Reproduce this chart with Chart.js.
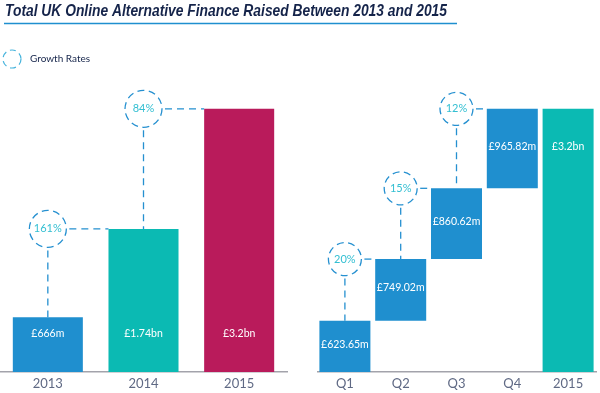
<!DOCTYPE html>
<html>
<head>
<meta charset="utf-8">
<script src="https://cdn.jsdelivr.net/npm/chart.js@4.4.1/dist/chart.umd.min.js"></script>
<style>
    html, body { margin: 0; padding: 0; background: #fff; }
    #wrap { position: relative; width: 600px; height: 393px; }
    .box { position: absolute; top: 0; height: 393px; }
    #leftBox { left: 0; width: 600px; }
    #rightBox { left: 317px; width: 283px; }
</style>
</head>
<body>
<div id="wrap">
    <div class="box" id="leftBox"><canvas id="yearChart"></canvas></div>
    <div class="box" id="rightBox"><canvas id="quarterChart"></canvas></div>
</div>
<script>
const titleText = 'Total UK Online Alternative Finance Raised Between 2013 and 2015';
const legendText = 'Growth Rates';

const years = ['2013', '2014', '2015'];
const yearValues = [666, 1740, 3200]; // £m
const yearLabels = ['£666m', '£1.74bn', '£3.2bn'];
const yearGrowth = ['161%', '84%'];

const quarters = ['Q1', 'Q2', 'Q3', 'Q4', '2015'];
const quarterValues = [623.65, 749.02, 860.62, 965.82]; // £m
const totalValue = 3200;
const quarterLabels = ['£623.65m', '£749.02m', '£860.62m', '£965.82m', '£3.2bn'];
const quarterGrowth = ['20%', '15%', '12%'];

const blue = '#1f8fcf';
const teal = '#0bbab3';
const crimson = '#b91b5b';
const navy = '#15244a';
const ringBlue = '#2590d0';
const ringText = '#33bfd2';
const tickGrey = '#5f6984';
const axisGrey = '#a3a3ab';
const labelFont = 'Lato, "Liberation Sans", sans-serif';

// waterfall: each quarter floats on top of the previous ones
let running = 0;
const quarterBars = quarterValues.map(v => {
    const bar = [running, running + v];
    running += v;
    return bar;
});
quarterBars.push([0, totalValue]);

function makeScales() {
    return {
        x: {
            grid: { display: false, drawTicks: false },
            border: { display: true, color: axisGrey, width: 1.5 },
            ticks: { color: tickGrey, font: { family: labelFont, size: 13 }, padding: 4 },
            afterFit: function(scale) { scale.height = 21; }
        },
        y: { display: false, min: 0, max: 4000 }
    };
}

function dashLine(ctx, x1, y1, x2, y2) {
    ctx.save();
    ctx.strokeStyle = ringBlue;
    ctx.lineWidth = 1.3;
    ctx.setLineDash([7, 5]);
    ctx.beginPath();
    ctx.moveTo(x1, y1);
    ctx.lineTo(x2, y2);
    ctx.stroke();
    ctx.restore();
}

function ring(ctx, x, y, r, text) {
    ctx.save();
    ctx.strokeStyle = ringBlue;
    ctx.lineWidth = 1.3;
    ctx.setLineDash([7, 4.5]);
    ctx.beginPath();
    ctx.arc(x, y, r, 0, Math.PI * 2);
    ctx.stroke();
    if (text) {
        ctx.fillStyle = ringText;
        ctx.font = '11px ' + labelFont;
        ctx.textAlign = 'center';
        ctx.textBaseline = 'middle';
        ctx.fillText(text, x, y);
    }
    ctx.restore();
}

function barText(ctx, text, x, y) {
    ctx.save();
    ctx.fillStyle = '#ffffff';
    ctx.font = '10.5px ' + labelFont;
    ctx.textAlign = 'center';
    ctx.textBaseline = 'middle';
    ctx.fillText(text, x, y);
    ctx.restore();
}

// growth ring sits above bar i and points across to bar i+1
function growthLinks(chart, growth, r) {
    const ctx = chart.ctx;
    const bars = chart.getDatasetMeta(0).data;
    growth.forEach((g, i) => {
        const prev = bars[i];
        const next = bars[i + 1];
        const cx = prev.x;
        const cy = next.y;
        dashLine(ctx, cx, cy + r + 3, cx, prev.y);
        dashLine(ctx, cx + r + 3, cy, next.x - next.width / 2, cy);
        ring(ctx, cx, cy, r, g);
    });
}

const yearPlugin = {
    id: 'yearExtras',
    afterDraw(chart) {
        const ctx = chart.ctx;

        // title, squeezed to the width of the original heading
        ctx.save();
        ctx.font = 'italic bold 16px "Liberation Sans", sans-serif';
        const w = ctx.measureText(titleText).width;
        ctx.translate(5, 15.5);
        ctx.scale(442 / w, 1);
        ctx.fillStyle = navy;
        ctx.fillText(titleText, 0, 0);
        ctx.restore();

        ctx.save();
        ctx.strokeStyle = blue;
        ctx.lineWidth = 1.5;
        ctx.beginPath();
        ctx.moveTo(4, 23.5);
        ctx.lineTo(457, 23.5);
        ctx.stroke();
        ctx.restore();

        // legend
        ctx.save();
        ctx.strokeStyle = '#45b3dc';
        ctx.lineWidth = 1.2;
        ctx.setLineDash([6, 4]);
        ctx.beginPath();
        ctx.arc(12, 59, 9, 0, Math.PI * 2);
        ctx.stroke();
        ctx.fillStyle = navy;
        ctx.font = '10px ' + labelFont;
        ctx.textBaseline = 'middle';
        ctx.fillText(legendText, 30, 59);
        ctx.restore();

        growthLinks(chart, yearGrowth, 18.5);

        const bars = chart.getDatasetMeta(0).data;
        const labelY = bars[0].y + 16;
        bars.forEach((bar, i) => barText(ctx, yearLabels[i], bar.x, labelY));
    }
};

const quarterPlugin = {
    id: 'quarterExtras',
    afterDraw(chart) {
        const ctx = chart.ctx;
        growthLinks(chart, quarterGrowth, 16.5);

        const bars = chart.getDatasetMeta(0).data;
        let lastY = 0;
        bars.forEach((bar, i) => {
            let y = (bar.y + bar.base) / 2 - 2;
            if (i === bars.length - 1) y = lastY; // total label lines up with Q4
            lastY = y;
            barText(ctx, quarterLabels[i], bar.x, y);
        });
    }
};

new Chart(document.getElementById('yearChart').getContext('2d'), {
    type: 'bar',
    data: {
        labels: years,
        datasets: [{
            data: yearValues,
            backgroundColor: [blue, teal, crimson],
            borderWidth: 0,
            categoryPercentage: 1,
            barPercentage: 0.732
        }]
    },
    options: {
        responsive: true,
        maintainAspectRatio: false,
        animation: false,
        layout: { padding: { top: 43, right: 313, bottom: 0, left: 0 } },
        scales: makeScales(),
        plugins: { legend: { display: false }, tooltip: { enabled: false } }
    },
    plugins: [yearPlugin]
});

new Chart(document.getElementById('quarterChart').getContext('2d'), {
    type: 'bar',
    data: {
        labels: quarters,
        datasets: [{
            data: quarterBars,
            backgroundColor: [blue, blue, blue, blue, teal],
            borderWidth: 0,
            borderSkipped: false,
            categoryPercentage: 1,
            barPercentage: 0.914
        }]
    },
    options: {
        responsive: true,
        maintainAspectRatio: false,
        animation: false,
        layout: { padding: { top: 43, right: 4, bottom: 0, left: 0 } },
        scales: makeScales(),
        plugins: { legend: { display: false }, tooltip: { enabled: false } }
    },
    plugins: [quarterPlugin]
});
</script>
</body>
</html>
